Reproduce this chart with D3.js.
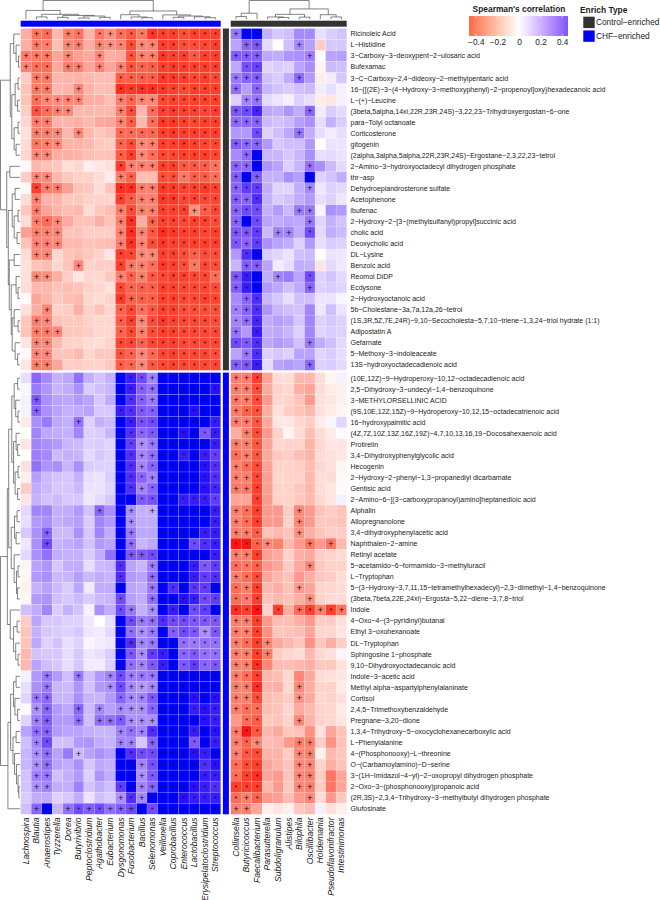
<!DOCTYPE html>
<html>
<head>
<meta charset="utf-8">
<script src="https://cdn.jsdelivr.net/npm/d3@7"></script>
<style>
  html, body { margin: 0; padding: 0; background: #fff; }
  svg { display: block; }
  text { font-family: "Liberation Sans", Arial, sans-serif; }
</style>
</head>
<body>
<div id="chart"></div>
<script>
const leftGenera = ['Lachnospira', 'Blautia', 'Anaerostipes', 'Tyzzerella', 'Dorea', 'Butyrivibrio', 'Peptoclostridium', 'Agathobacter', 'Eubacterium', 'Dysgonomonas', 'Fusobacterium', 'Bacillus', 'Selenomonas', 'Veillonella', 'Coprobacillus', 'Enterococcus', 'Lactobacillus', 'Erysipelatoclostridium', 'Streptococcus']
const rightGenera = ['Collinsella', 'Butyricicoccus', 'Faecalibacterium', 'Parasutterella', 'Subdoligranulum', 'Alistipes', 'Bilophila', 'Oscillibacter', 'Holdemania', 'Pseudoflavonifractor', 'Intestinimonas']

const topMetabolites = ['Ricinoleic Acid', 'L-Histidine', '3-Carboxy-3-deoxypent-2-ulosaric acid', 'Bufexamac', '3-C-Carboxy-2,4-dideoxy-2-methylpentaric acid', '16-{[(2E)-3-(4-Hydroxy-3-methoxyphenyl)-2-propenoyl]oxy}hexadecanoic acid', 'L-(+)-Leucine', '(3beta,5alpha,14xi,22R,23R,24S)-3,22,23-Trihydroxyergostan-6-one', 'para-Tolyl octanoate', 'Corticosterone', 'gitogenin', '(2alpha,3alpha,5alpha,22R,23R,24S)-Ergostane-2,3,22,23-tetrol', '2-Amino-3-hydroxyoctadecyl dihydrogen phosphate', 'thr-asp', 'Dehydroepiandrosterone sulfate', 'Acetophenone', 'ibufenac', '2-Hydroxy-2-[3-(methylsulfanyl)propyl]succinic acid', 'cholic acid', 'Deoxycholic acid', 'DL-Lysine', 'Benzoic acid', 'Reomol DiDP', 'Ecdysone', '2-Hydroxyoctanoic acid', '5b-Cholestane-3a,7a,12a,26-tetrol', '(1S,3R,5Z,7E,24R)-9,10-Secocholesta-5,7,10-triene-1,3,24-triol hydrate (1:1)', 'Adipostatin A', 'Gefarnate', '5-Methoxy-3-indoleaceate', '13S-hydroxyoctadecadienoic acid']
const bottomMetabolites = ['(10E,12Z)-9-Hydroperoxy-10,12-octadecadienoic acid', '2,5-Dihydroxy-3-undecyl-1,4-benzoquinone', '3-METHYLORSELLINIC ACID', '(9S,10E,12Z,15Z)-9-Hydroperoxy-10,12,15-octadecatrienoic acid', '16-hydroxypalmitic acid', '(4Z,7Z,10Z,13Z,16Z,19Z)-4,7,10,13,16,19-Docosahexaenoic acid', 'Protirelin', '3,4-Dihydroxyphenylglycolic acid', 'Hecogenin', '2-Hydroxy-2-phenyl-1,3-propanediyl dicarbamate', 'Gentisic acid', '2-Amino-6-[(3-carboxypropanoyl)amino]heptanedioic acid', 'Alphalin', 'Allopregnanolone', '3,4-dihydroxyphenylacetic acid', 'Naphthalen-2-amine', 'Retinyl acetate', '5-acetamido-6-formamido-3-methyluracil', 'L-Tryptophan', '5-(3-Hydroxy-3,7,11,15-tetramethylhexadecyl)-2,3-dimethyl-1,4-benzoquinone', '(3beta,7beta,22E,24xi)-Ergosta-5,22-diene-3,7,8-triol', 'Indole', '4-Oxo-4-(3-pyridinyl)butanal', 'Ethyl 3-oxohexanoate', 'DL-Tryptophan', 'Sphingosine 1-phosphate', '9,10-Dihydroxyoctadecanoic acid', 'Indole-3-acetic acid', 'Methyl alpha-aspartylphenylalaninate', 'Cortisol', '2,4,5-Trimethoxybenzaldehyde', 'Pregnane-3,20-dione', '1,3,4-Trihydroxy-5-oxocyclohexanecarboxylic acid', 'L-Phenylalanine', '4-(Phosphonooxy)-L-threonine', 'O-(Carbamoylamino)-D-serine', '3-(1H-Imidazol-4-yl)-2-oxopropyl dihydrogen phosphate', '2-Oxo-3-(phosphonooxy)propanoic acid', '(2R,3S)-2,3,4-Trihydroxy-3-methylbutyl dihydrogen phosphate', 'Glufosinate']

// correlations x 100, one row per metabolite: 19 left genera then 11 right genera
const topValues = [
  [-16,-28,-30,-14,-26,-29,-15,-28,-22,-30,-34,-28,-39,-38,-38,-36,-38,-38,-38, 28,44,44,17,12,14,25,25,7,11,13],
  [-16,-27,-26,-13,-24,-26,-16,-25,-22,-25,-36,-24,-25,-38,-38,-36,-36,-37,-38, 20,32,34,8,0,14,25,21,-10,12,12],
  [-26,-27,-27,-18,-24,-19,-17,-24,-16,-17,-35,-26,-26,-39,-38,-38,-34,-38,-38, 33,33,33,19,18,23,24,27,1,20,21],
  [-25,-30,-30,-17,-27,-26,-18,-25,-18,-25,-35,-32,-33,-38,-39,-38,-38,-38,-38, 19,35,37,9,11,10,20,24,-2,15,14],
  [-10,-27,-27,-15,-15,-15,-14,-13,-13,-33,-33,-33,-33,-39,-39,-38,-37,-38,-37, 28,32,33,14,11,18,31,22,-4,4,12],
  [-12,-27,-27,-14,-15,-24,-15,-13,-13,-40,-39,-40,-40,-39,-38,-37,-38,-38,-38, 30,21,32,16,13,11,14,15,4,7,3],
  [-12,-30,-24,-23,-24,-24,-16,-16,-13,-26,-31,-25,-24,-37,-38,-38,-38,-38,-38, 10,26,29,8,5,3,10,7,-4,-5,3],
  [-10,-35,-30,-25,-24,-14,-14,-14,-14,-26,-36,-14,-30,-38,-39,-38,-38,-37,-38, 34,36,41,19,18,23,18,32,4,11,8],
  [-8,-26,-26,-15,-15,-16,-14,-17,-18,-25,-33,-14,-30,-39,-39,-38,-37,-38,-38, 31,31,32,15,13,15,21,24,7,17,11],
  [-6,-26,-26,-24,-14,-24,-14,-11,-13,-31,-30,-31,-31,-38,-39,-38,-38,-38,-38, 22,22,36,10,14,19,29,18,7,4,7],
  [-7,-28,-26,-24,-15,-15,-14,-11,-10,-32,-36,-24,-26,-38,-38,-39,-38,-37,-37, 33,31,32,22,12,14,14,22,0,6,6],
  [-8,-24,-24,-16,-16,-15,-13,-12,-12,-33,-38,-24,-30,-37,-37,-38,-38,-38,-37, 25,31,44,16,16,12,16,24,7,8,6],
  [-1,-14,-12,-11,-6,-8,-3,-5,-6,-38,-26,-26,-26,-38,-38,-34,-34,-33,-29, 32,31,45,23,20,10,16,29,24,15,8],
  [-10,-24,-24,-14,-11,-9,-9,-7,-4,-26,-32,-13,-13,-36,-36,-28,-33,-33,-30, 33,46,33,17,17,24,21,44,10,13,18],
  [-1,-38,-26,-26,-19,-12,-11,-7,-12,-40,-40,-26,-26,-39,-39,-38,-38,-39,-38, 32,38,38,18,9,9,18,25,5,10,8],
  [-7,-26,-15,-15,-11,-11,-9,-9,-8,-38,-33,-26,-26,-39,-39,-37,-38,-37,-37, 33,32,40,17,11,13,18,22,7,10,5],
  [-11,-26,-18,-15,-13,-14,-7,-11,-13,-26,-36,-26,-26,-38,-38,-38,-22,-33,-37, 32,36,36,17,22,15,28,28,2,24,22],
  [-7,-26,-30,-24,-17,-12,-12,-16,-12,-26,-40,-16,-32,-38,-38,-37,-38,-38,-36, 32,45,36,20,18,20,19,29,9,17,13],
  [-19,-26,-25,-24,-12,-12,-10,-10,-10,-26,-40,-25,-34,-40,-39,-38,-38,-37,-38, 34,34,38,15,26,26,18,36,8,18,15],
  [-12,-25,-25,-24,-14,-14,-12,-13,-13,-26,-40,-25,-36,-39,-38,-38,-38,-38,-38, 34,32,38,24,20,18,10,22,7,11,10],
  [-7,-24,-24,-8,-12,-13,-11,-9,-5,-38,-37,-24,-24,-38,-38,-36,-33,-36,-36, 22,40,44,11,9,6,14,15,0,6,5],
  [-6,-12,-13,-8,-12,-24,-9,-10,-10,-38,-27,-26,-30,-39,-38,-36,-28,-37,-36, 16,33,33,20,4,7,18,17,-5,8,5],
  [-6,-24,-22,-16,-10,-5,-8,-8,-11,-26,-32,-26,-34,-37,-38,-38,-37,-37,-30, 34,42,46,18,26,28,20,36,10,13,8],
  [-7,-14,-14,-12,-13,-12,-9,-8,-6,-37,-32,-33,-33,-38,-38,-37,-37,-37,-36, 33,42,46,22,19,14,19,32,10,11,9],
  [-1,-18,-15,-11,-13,-14,-8,-7,-9,-39,-32,-33,-33,-38,-38,-37,-37,-38,-37, 25,32,40,16,12,7,14,14,6,6,2],
  [-6,-16,-24,-9,-10,-16,-9,-12,-8,-32,-37,-30,-34,-38,-38,-36,-36,-36,-36, 27,32,40,23,16,14,13,26,5,14,6],
  [-11,-26,-24,-12,-11,-11,-9,-8,-8,-33,-38,-24,-36,-39,-38,-37,-37,-37,-36, 26,30,41,18,21,19,12,26,10,12,10],
  [-12,-26,-26,-24,-11,-11,-10,-8,-8,-32,-37,-26,-36,-38,-38,-37,-37,-37,-37, 29,22,42,18,19,16,10,26,9,11,10],
  [-5,-24,-24,-14,-9,-9,-7,-7,-9,-37,-37,-32,-37,-38,-38,-37,-37,-37,-37, 36,34,40,19,22,20,13,28,18,14,8],
  [-1,-24,-24,-12,-12,-14,-8,-11,-11,-35,-32,-24,-31,-37,-38,-37,-37,-37,-36, 20,28,40,10,12,10,20,20,9,11,7],
  [-5,-26,-26,-18,-10,-10,-9,-9,-11,-33,-31,-24,-34,-37,-38,-37,-37,-37,-37, 33,34,42,8,20,22,20,31,10,11,8]
]
const bottomValues = [
  [7,32,25,17,19,30,17,13,17,44,42,36,26,45,45,45,45,44,44, -26,-26,-38,-18,-7,-7,-14,-14,-7,-2,3],
  [2,28,23,16,18,24,11,14,16,44,42,33,30,45,45,44,44,44,43, -26,-26,-36,-17,-9,-8,-16,-18,-7,-4,-3],
  [3,34,24,20,19,22,20,12,18,44,40,33,28,45,45,44,44,45,44, -27,-27,-36,-20,-8,-9,-12,-20,-6,-5,-3],
  [3,32,24,20,17,18,20,12,12,42,40,34,33,44,45,44,43,44,44, -27,-32,-35,-16,-6,-10,-12,-14,-6,-4,-2],
  [-4,24,28,19,17,30,10,17,15,45,42,35,36,45,45,45,44,45,42, -26,-26,-34,-17,-5,-5,-8,-10,-4,2,9],
  [0,26,19,18,17,26,10,11,16,45,40,32,34,44,45,43,44,34,42, -16,-26,-36,-20,-9,-2,-7,-13,-7,-4,1],
  [-5,26,24,22,16,15,10,11,9,44,38,24,28,45,45,44,44,44,42, -26,-26,-34,-18,-8,-9,-9,-15,-8,-5,-5],
  [0,27,25,15,17,16,8,12,10,45,40,26,30,45,45,42,44,42,38, -30,-26,-34,-17,-11,-10,-13,-15,-7,-6,-5],
  [-6,30,23,24,16,24,11,10,10,45,40,26,32,45,45,45,44,43,40, -26,-30,-36,-18,-9,-9,-10,-13,-8,-6,-2],
  [-3,21,15,13,12,17,7,6,11,44,40,32,26,45,44,44,45,43,40, -26,-26,-37,-19,-8,-9,-9,-14,-7,-7,-1],
  [-10,18,15,12,12,15,6,6,9,45,40,26,32,45,45,44,44,43,41, -27,-27,-38,-19,-9,-9,-11,-14,-7,-5,-1],
  [-5,17,13,15,12,12,5,8,12,44,46,34,35,44,44,42,42,42,38, -18,-18,-38,-20,-9,-9,-11,-14,-8,-5,3],
  [8,26,26,17,18,22,13,32,24,44,24,17,18,45,45,45,44,44,42, -26,-30,-38,-20,-20,-10,-24,-20,-12,-10,-12],
  [7,22,24,17,19,21,11,26,22,45,24,18,18,45,45,44,44,44,42, -26,-30,-38,-20,-20,-9,-24,-20,-11,-11,-12],
  [12,24,32,15,15,24,12,26,18,44,28,19,19,44,44,44,44,42,42, -26,-26,-33,-12,-14,-12,-22,-16,-12,-10,-10],
  [5,24,36,16,18,20,13,22,20,45,30,16,19,44,44,45,36,40,42, -42,-42,-32,-24,-26,-14,-20,-28,-20,-28,-14],
  [8,24,30,18,17,17,11,18,30,46,34,34,36,45,45,44,44,44,42, -26,-26,-38,-19,-17,-9,-16,-17,-10,-9,-7],
  [-2,20,23,12,18,18,7,15,16,40,20,16,27,44,44,44,42,34,38, -30,-28,-32,-20,-18,-10,-17,-24,-11,-9,-9],
  [-2,22,24,15,16,21,15,18,16,40,22,20,30,44,44,45,42,38,40, -26,-30,-36,-18,-14,-12,-20,-16,-11,-10,-7],
  [-3,17,20,15,11,19,4,18,18,44,20,18,28,44,40,44,39,38,45, -30,-26,-38,-14,-16,-12,-20,-18,-9,-8,-7],
  [-2,22,23,14,12,15,11,15,16,36,21,18,30,44,44,43,42,36,38, -30,-27,-38,-12,-14,-12,-16,-22,-9,-7,-7],
  [14,18,26,11,17,13,3,24,18,36,28,17,24,44,42,44,36,38,44, -40,-38,-42,-9,-38,-16,-30,-38,-26,-38,-28],
  [-10,20,12,12,10,10,5,0,7,44,36,28,30,40,36,36,34,34,34, -26,-26,-38,-20,-13,-13,-16,-20,-10,-10,-6],
  [-12,17,12,11,10,12,5,4,8,45,30,24,28,44,33,36,34,24,34, -26,-26,-38,-22,-11,-12,-13,-18,-8,-8,-5],
  [-12,19,10,13,7,10,2,4,5,44,40,26,28,44,44,30,28,30,30, -26,-30,-38,-24,-17,-14,-11,-22,-11,-16,-10],
  [-14,13,12,12,7,12,5,7,11,44,34,24,38,42,44,32,34,30,30, -26,-26,-38,-26,-10,-8,-7,-14,-8,-6,2],
  [-14,20,14,12,7,12,4,4,10,45,30,26,34,42,44,34,38,32,34, -26,-26,-40,-24,-13,-13,-14,-16,-11,-11,-6],
  [3,22,28,22,14,28,14,22,26,36,27,28,28,44,44,45,44,44,45, -26,-30,-38,-14,-13,-8,-24,-17,-7,-6,-5],
  [7,24,28,16,15,23,13,22,24,36,25,22,25,44,44,45,44,44,44, -26,-26,-40,-15,-16,-8,-24,-16,-9,-9,-4],
  [9,28,31,16,16,24,16,16,22,32,25,26,34,44,44,44,43,44,43, -26,-26,-36,-13,-12,-10,-21,-17,-8,-9,-6],
  [1,24,32,22,19,32,15,26,21,25,24,24,32,44,44,44,42,43,42, -26,-30,-30,-13,-12,-8,-17,-14,-9,-8,-4],
  [9,27,33,22,22,30,14,30,30,34,24,24,24,45,44,45,44,43,42, -20,-30,-33,-11,-12,-9,-24,-15,-9,-8,-5],
  [20,30,32,22,20,20,17,16,16,26,30,26,40,44,44,44,42,44,43, -26,-42,-34,-14,-17,-11,-12,-22,-6,-18,-12],
  [14,26,36,13,14,22,23,18,16,26,26,12,32,44,44,44,34,44,42, -26,-32,-24,-13,-14,-20,-26,-26,-10,-22,-12],
  [16,24,30,20,28,15,20,24,21,44,40,36,36,45,45,44,43,42,44, -26,-34,-36,-15,-15,-10,-24,-26,-3,-14,-11],
  [16,24,30,20,18,24,12,19,17,44,44,26,35,44,44,44,44,40,43, -30,-36,-38,-18,-15,-12,-24,-24,-9,-16,-12],
  [13,27,28,14,17,22,10,23,18,44,44,24,34,44,44,44,44,42,42, -30,-38,-40,-18,-20,-12,-24,-26,-10,-28,-18],
  [13,24,26,18,17,27,13,18,14,38,44,26,32,44,44,44,43,42,40, -38,-38,-38,-14,-20,-11,-24,-26,-10,-28,-18],
  [11,18,18,10,12,18,6,14,11,24,40,25,44,45,44,43,42,42,42, -30,-26,-32,-20,-19,-13,-20,-24,-7,-20,-11],
  [14,32,44,16,30,36,33,36,30,33,36,44,36,45,45,45,44,44,44, -26,-26,-18,-3,-5,-3,-11,-13,3,-6,-3]
]

// significance marks, same order: first 19 characters left genera, last 11 right genera
const topMarks = [
  '.+*.+*.*+ **** ****** +**........',
  '.+*.++.++ **++ ****** .++...+....',
  '+++.+..+. .*++ ****** +++....+...',
  '+**.++.+. +*** ****** .**........',
  '.++...... **** ****** +++...+....',
  '.++..+... **** ****** +.*........',
  '.*++++... +*++ ****** .++........',
  '.**++.... +*.* ****** +**....+...',
  '.++...... +*.* ****** +++........',
  '.+++.+... **** ****** ..*...+....',
  '.*++..... **++ ****** +++........',
  '.++...... **+* ****** .+*........',
  '......... *+++ ****** ++*....+...',
  '.++...... +*.. ****** +*+....*...',
  '.*++..... **++ ****** +**....+...',
  '.+....... **++ ****** ++*........',
  '.+....... +*++ ***+** +**...++...',
  '.+*+..... +*.+ ****** +**....+...',
  '.+++..... +*+* ****** ++*.++.*...',
  '.+++..... +*+* ****** *+*........',
  '.++...... **++ ****** .**........',
  '.....+... *++* ****** .++........',
  '.++...... +*+* ****** +**.+..*...',
  '......... **** ****** +**....+...',
  '......... *+** ****** .+*........',
  '..+...... **** ****** *+*........',
  '.++...... **+* ****** *+*........',
  '.+++..... **+* ****** +.*........',
  '.++...... **** ****** ***....+...',
  '.++...... **+* ****** .+*........',
  '.++...... **+* ****** ++*....+...'
]
const bottomMarks = [
  '......... ***+ ****** ++*........',
  '......... ***+ ****** ++*........',
  '.+....... ***+ ****** ++*........',
  '.+....... **** ****** +**........',
  '.....+... **** ****** ++*........',
  '......... **** ****** .+*........',
  '......... **++ ****** ++*........',
  '......... **++ ****** *+*........',
  '......... **+* ****** +**........',
  '......... ***+ ****** ++*........',
  '......... **+* ****** ++*........',
  '......... **** ****** ..*........',
  '.......+. *+.+ ****** +**...+....',
  '......... *+.. ****** +**...+....',
  '..+...... *+.. ****** ++*...+....',
  '..+...... *+.. ****** ***+...+.+.',
  '......... *++* ****** ++*........',
  '......... *..+ ****** ***....+...',
  '......... *..+ ****** +**........',
  '......... *..+ ****** *+*...+....',
  '......... *..+ ****** ***....+...',
  '......... *+.+ ****** ***.*.+*+*+',
  '......... **++ ****** ++*........',
  '......... **++ ****+* ++*........',
  '......... *+++ ****** +**+.......',
  '......... **+* ****** ++*+.......',
  '......... **+* ****** ++*........',
  '..+..+..+ *+++ ****** +**........',
  '..+.....+ *+++ ****** ++*...+....',
  '.++...... *++* ****** ++*...+....',
  '.++..+.+. +++* ****** +**........',
  '.++..+.++ *+++ ****** .**...+....',
  '.++...... +*+* ****** +**........',
  '.+*...... ++.+ ****** +*+...++...',
  '.++..+... **** ****** +**...++...',
  '.++...... **+* ****** ***...++...',
  '.++...... **+* ****** ***...++...',
  '.++...... **++ ****** ***...++...',
  '......... +*+* ****** *+*....+...',
  '.+*.+*+*+ ++** ****** ++.........'
]

// dendrograms as [merge height, child, child]; a plain number is a leaf index
const leftColTree = [1,
  [.47, 0, [.26, [.12, 1, 2], [.2, [.1, 3, 4], [.17, [.06, 5, 6], [.1, 7, 8]]]]],
  [.44, [.24, 9, [.12, 10, [.08, 11, 12]]], [.23, 13, [.17, [.1, 14, 15], [.13, 16, [.08, 17, 18]]]]]]
const rightColTree = [1,
  [.32, [.14, 0, 1], 2],
  [.55, [.26, [.12, 3, [.09, 4, 5]], [.11, 6, 7]], [.24, 8, [.12, 9, 10]]]]
const topRowTree = [1,
  [.5, [.32, 0, [.2, 1, [.08, 2, 3]]],
    [.42, [.25, [.1, 4, 5], [.12, 6, 7]], [.3, [.1, 8, 9], [.2, 10, 11]]]],
  [.68, [.52, 12, 13],
    [.6, [.4, [.25, 14, 15], [.3, [.1, 16, 17], [.15, 18, 19]]],
      [.55, [.3, 20, 21], [.45, [.2, 22, [.1, 23, 24]], [.4, [.3, 25, [.1, 26, 27]], [.25, 28, [.12, 29, 30]]]]]]]]
const bottomRowTree = [1,
  [.65,
    [.58,
      [.42, [.3, [.12, 0, 1], [.22, 2, [.1, 3, 4]]], [.33, [.2, 5, [.12, 6, 7]], [.25, [.1, 8, 9], [.12, 10, 11]]]],
      [.45, [.28, [.15, 12, 13], [.2, 14, 15]], [.3, 16, [.18, [.1, 17, 18], [.13, 19, 20]]]]],
    [.5, 21, [.33, [.15, 22, 23], [.22, 24, [.1, 25, 26]]]]],
  [.62,
    [.48, [.33, [.2, 27, 28], [.26, 29, [.12, 30, 31]]], [.36, [.2, 32, 33], [.28, 34, [.18, 35, [.1, 36, [.06, 37, 38]]]]]],
    39]]

const legendTicks = [-0.4, -0.2, 0, 0.2, 0.4]
const enrichTypes = ['Control-enriched', 'CHF-enriched']

const minus = (s) => s.replace(/-/g, '\u2212')
const controlColor = '#333333'
const chfColor = '#0000ff'
const treeColor = '#4d4d4d'

const svg = d3.select('#chart').append('svg').attr('width', 660).attr('height', 900)

const xLeft = d3.scaleBand().domain(leftGenera).range([20.7, 220.7])
const xRight = d3.scaleBand().domain(rightGenera).range([230.7, 346.7])
const yTop = d3.scaleBand().domain(topMetabolites).range([28.5, 370.3])
const yBottom = d3.scaleBand().domain(bottomMetabolites).range([372.6, 814.3])

const color = d3.scaleLinear()
  .domain([-42, -21, 0, 20, 32, 44])
  .range(['#ff1414', '#ff9488', '#ffffff', '#b8a4ff', '#8a64ff', '#0000ff'])
  .interpolate(d3.interpolateLab)
  .clamp(true)

const genera = leftGenera.concat(rightGenera)
const xOf = (name) => (leftGenera.includes(name) ? xLeft(name) : xRight(name))

function drawPanel(names, y, values, rawMarks) {
  const marks = rawMarks.map((s) => s.replace(/ /g, ''))
  const cells = names.flatMap((name, r) => genera.map((g, c) => (
    { name, g, value: values[r][c], mark: marks[r][c] })))
  const panel = svg.append('g')
  panel.selectAll('rect').data(cells).join('rect')
    .attr('x', (d) => xOf(d.g))
    .attr('y', (d) => y(d.name))
    .attr('width', xLeft.bandwidth())
    .attr('height', y.bandwidth())
    .attr('fill', (d) => color(d.value))
    .attr('stroke', '#fff')
    .attr('stroke-opacity', 0.3)
    .attr('stroke-width', 0.5)
  panel.selectAll('text.mark').data(cells.filter((d) => d.mark === '+' || d.mark === '*')).join('text')
    .attr('class', 'mark')
    .attr('x', (d) => xOf(d.g) + xLeft.bandwidth() / 2)
    .attr('y', (d) => y(d.name) + y.bandwidth() / 2 + (d.mark === '+' ? 3.1 : 2.9))
    .attr('text-anchor', 'middle')
    .attr('font-size', (d) => (d.mark === '+' ? 9.5 : 7))
    .attr('fill', '#111')
    .text((d) => d.mark)
  svg.append('g').selectAll('text').data(names).join('text')
    .attr('x', 350.5)
    .attr('y', (d) => y(d) + y.bandwidth() / 2 + 2.4)
    .attr('font-size', 7)
    .attr('fill', '#222')
    .text((d) => minus(d))
}
drawPanel(topMetabolites, yTop, topValues, topMarks)
drawPanel(bottomMetabolites, yBottom, bottomValues, bottomMarks)

// annotation strips
svg.append('rect').attr('x', xLeft.range()[0]).attr('y', 20.7).attr('width', xLeft.range()[1] - xLeft.range()[0]).attr('height', 6).attr('fill', chfColor)
svg.append('rect').attr('x', xRight.range()[0]).attr('y', 20.7).attr('width', xRight.range()[1] - xRight.range()[0]).attr('height', 6).attr('fill', controlColor)
svg.append('rect').attr('x', 222.9).attr('y', yTop.range()[0]).attr('width', 6).attr('height', yTop.range()[1] - yTop.range()[0]).attr('fill', controlColor)
svg.append('rect').attr('x', 222.9).attr('y', yBottom.range()[0]).attr('width', 6).attr('height', yBottom.range()[1] - yBottom.range()[0]).attr('fill', chfColor)

// column labels
function drawColLabels(names, x) {
  svg.append('g').selectAll('text').data(names).join('text')
    .attr('transform', (d) => `translate(${x(d) + x.bandwidth() / 2 + 2.8}, 817.5) rotate(-90)`)
    .attr('text-anchor', 'end')
    .attr('font-size', 8.6)
    .attr('font-style', 'italic')
    .attr('fill', '#222')
    .text((d) => d)
}
drawColLabels(leftGenera, xLeft)
drawColLabels(rightGenera, xRight)

// dendrograms
function treeSegments(node, pos, depth, segs) {
  if (typeof node === 'number') return { p: pos(node), d: depth(0) }
  const a = treeSegments(node[1], pos, depth, segs)
  const b = treeSegments(node[2], pos, depth, segs)
  const d = depth(node[0])
  segs.push({ a, b, d })
  return { p: (a.p + b.p) / 2, d }
}
function drawColTree(tree, x, names) {
  const depth = d3.scaleLinear().domain([0, 1]).range([19.2, 0.5])
  const segs = []
  treeSegments(tree, (i) => x(names[i]) + x.bandwidth() / 2, depth, segs)
  svg.append('g').selectAll('path').data(segs).join('path')
    .attr('fill', 'none').attr('stroke', treeColor).attr('stroke-width', 0.7)
    .attr('d', (s) => `M${s.a.p},${s.a.d}V${s.d}H${s.b.p}V${s.b.d}`)
}
function drawRowTree(tree, y, names) {
  const depth = d3.scaleLinear().domain([0, 1]).range([20, 0.5])
  const segs = []
  treeSegments(tree, (i) => y(names[i]) + y.bandwidth() / 2, depth, segs)
  svg.append('g').selectAll('path').data(segs).join('path')
    .attr('fill', 'none').attr('stroke', treeColor).attr('stroke-width', 0.7)
    .attr('d', (s) => `M${s.a.d},${s.a.p}H${s.d}V${s.b.p}H${s.b.d}`)
}
drawColTree(leftColTree, xLeft, leftGenera)
drawColTree(rightColTree, xRight, rightGenera)
drawRowTree(topRowTree, yTop, topMetabolites)
drawRowTree(bottomRowTree, yBottom, bottomMetabolites)

// colour legend
const legendX = d3.scaleLinear().domain([-0.463, 0.454]).range([469, 568])
const legendColor = d3.scaleLinear().domain([-0.62, 0, 0.62])
  .range(['#ff0000', '#ffffff', '#0000ff']).interpolate(d3.interpolateLab)
const grad = svg.append('defs').append('linearGradient').attr('id', 'legendGrad')
grad.selectAll('stop').data(d3.range(0, 1.0001, 0.05)).join('stop')
  .attr('offset', (d) => d)
  .attr('stop-color', (d) => legendColor(legendX.invert(469 + d * 99)))
svg.append('rect').attr('x', 469).attr('y', 16).attr('width', 99).attr('height', 20).attr('fill', 'url(#legendGrad)')

const legendAxis = d3.axisBottom(legendX)
  .tickValues(legendTicks)
  .tickSize(0)
  .tickPadding(3)
  .tickFormat((d) => (d === 0 ? '0' : d3.format('.1f')(d)))
svg.append('g').attr('transform', 'translate(0, 36)').call(legendAxis)
  .call((g) => g.select('.domain').remove())
  .call((g) => g.selectAll('text').attr('font-size', 8.3).attr('fill', '#222').attr('font-family', '"Liberation Sans", Arial, sans-serif'))
svg.append('g').selectAll('path').data(legendTicks).join('path')
  .attr('stroke', '#fff').attr('stroke-width', 0.5)
  .attr('d', (d) => `M${legendX(d)},16v2M${legendX(d)},34v2`)

svg.append('text').attr('x', 519).attr('y', 12).attr('text-anchor', 'middle')
  .attr('font-size', 8.4).attr('font-weight', 'bold').attr('fill', '#222').text("Spearman's correlation")

svg.append('text').attr('x', 580).attr('y', 13)
  .attr('font-size', 8.4).attr('font-weight', 'bold').attr('fill', '#222').text('Enrich Type')
const legendItems = svg.append('g').selectAll('g').data(enrichTypes).join('g')
  .attr('transform', (d, i) => `translate(583.3, ${16.7 + i * 13.7})`)
legendItems.append('rect').attr('width', 11.4).attr('height', 11.4)
  .attr('fill', (d, i) => (i === 0 ? controlColor : chfColor))
legendItems.append('text').attr('x', 12.7).attr('y', 8.7)
  .attr('font-size', 8.3).attr('fill', '#222').text((d) => minus(d))
</script>
</body>
</html>
